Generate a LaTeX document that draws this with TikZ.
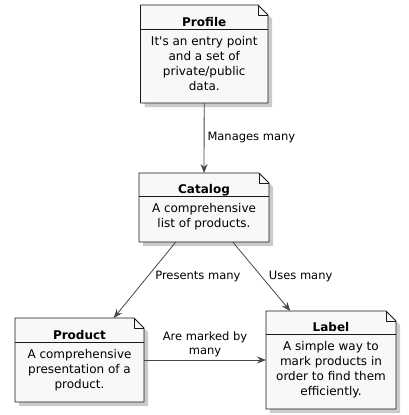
\documentclass[tikz,border=0pt]{standalone}
\usepackage{fontspec}
\setmainfont{DejaVu Sans}
\usetikzlibrary{arrows.meta,fit}
\definecolor{notefill}{HTML}{F8F8F8}
\definecolor{noteline}{HTML}{181818}
\definecolor{relline}{HTML}{454545}
% #1 name, #2 left, #3 top, #4 right, #5 bottom, #6 separator, #7 title, #8 text
\newcommand{\umlnote}[8]{%
  \node[noteframe, fit={(#2,#3) (#4,#5)}] (#1) {};
  \fill[noteshadow] ([shift={(4,4)}]#1.south west) -- ([shift={(4,4)}]#1.north west)
    -- ([shift={(-6,4)}]#1.north east) -- ([shift={(4,14)}]#1.north east)
    -- ([shift={(4,4)}]#1.south east) -- cycle;
  \draw[notebox] (#1.south west) -- (#1.north west) -- ([xshift=-10pt]#1.north east)
    -- ([yshift=-10pt]#1.north east) -- (#1.south east) -- cycle;
  \draw[notebox,fill=none] ([xshift=-10pt]#1.north east) |- ([yshift=-10pt]#1.north east);
  \draw[notebox,fill=none] (#2,#6) -- (#4,#6);
  \node[notetitle] (#1-title) at ({(#2+#4)/2},#6-3) {#7};
  \node[notetext] (#1-text) at ({(#2+#4)/2},#6+7) {#8};
}
\begin{document}
\begin{tikzpicture}[x=1pt, y=-1pt, line join=round, >={Stealth[length=9pt,width=7pt,inset=3pt]},
  noteframe/.style={inner sep=0pt, outer sep=0pt},
  noteshadow/.style={fill=black!45, opacity=0.45},
  notebox/.style={draw=noteline, fill=notefill, line width=0.9pt},
  notetitle/.style={anchor=base, inner sep=0pt, font=\bfseries\fontsize{12}{15}\selectfont},
  notetext/.style={anchor=north, inner sep=0pt, align=center, font=\fontsize{12}{15}\selectfont},
  rel/.style={->, draw=relline, line width=0.8pt},
  rellabel/.style={inner sep=3pt, align=center, font=\fontsize{11.5}{14}\selectfont}]
  \useasboundingbox (0,0) rectangle (409,415);
  \umlnote{profile}{140.5}{5}{268}{103}{29}{Profile}{It\textquotesingle s an entry point\\and a set of\\private/public\\data.}
  \umlnote{catalog}{139}{173}{269}{242}{196}{Catalog}{A comprehensive\\list of products.}
  \umlnote{product}{15}{318}{144}{402}{342}{Product}{A comprehensive\\presentation of a\\product.}
  \umlnote{label}{266}{311}{396}{409}{334}{Label}{A simple way to\\mark products in\\order to find them\\efficiently.}
  \draw[rel] (profile) -- (catalog) node[rellabel, midway, right] {Manages many};
  \draw[rel] (catalog) -- (product) node[rellabel, pos=0.45, anchor=west, xshift=4pt] {Presents many};
  \draw[rel] (catalog) -- (label) node[rellabel, pos=0.5, anchor=west, xshift=4pt] {Uses many};
  \draw[rel] (product) -- (label) node[rellabel, midway, above] {Are marked by\\many};
\end{tikzpicture}
\end{document}
